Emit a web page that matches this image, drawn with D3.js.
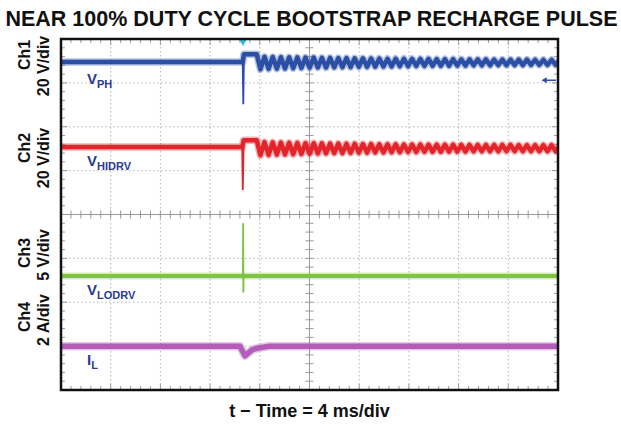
<!DOCTYPE html>
<html>
<head>
<meta charset="utf-8">
<script src="https://cdn.jsdelivr.net/npm/d3@7"></script>
<style>
  body { margin: 0; background: #fff; }
  text { font-family: "Liberation Sans", Arial, Helvetica, sans-serif; font-weight: bold; }
</style>
</head>
<body>
<div class="chart"></div>
<script>
var svgWidth = 621;
var svgHeight = 426;

var margin = { top: 39, right: 63, bottom: 36, left: 61 };
var width = svgWidth - margin.left - margin.right;
var height = svgHeight - margin.top - margin.bottom;

// time base: 4 ms/div, 10 divisions, trigger at centre
var msPerDiv = 4;
var xDivs = 10, yDivs = 8;

// channel settings (units per division, ground position in divisions)
var chNames = ["Ch1", "Ch2", "Ch3", "Ch4"];
var chScales = ["20 V/div", "20 V/div", "5 V/div", "2 A/div"];
var chPerDiv = [20, 20, 5, 2];
var chGround = [3.0, 1.0, -1.4, -4.0];
var chLabel = ["V", "V", "V", "I"];
var chSub = ["PH", "HIDRV", "LODRV", "L"];

// steady / transient knots per channel: [time ms, value]
var ch1Knots = [[-20, 9.5], [-5.38, 9.5], [-5.27, 13.1], [-4.25, 13.1]];
var ch2Knots = [[-20, 10.8], [-5.42, 10.8], [-5.29, 13.9], [-4.25, 13.9]];
var ch3Knots = [[-20, 0], [-5.36, 0], [-5.3, 0], [20, 0]];
var ch4Knots = [[-20, 2.0], [-5.6, 2.0], [-5.2, 1.56], [-4.6, 1.84], [-4.0, 1.93], [-3.2, 2.0], [20, 2.0]];

// narrow switching spikes, drawn between knot 1 and knot 2
var ch1Spike = [[-5.33, -9.7]];
var ch2Spike = [[-5.37, -8.8]];
var ch3Spike = [[-5.34, 6.0], [-5.32, -1.9]];
var ch4Spike = [];

// ringing after the recharge pulse, trough/peak samples every 0.33 ms from -3.95 ms
var ringStart = -3.95, ringStep = 0.33;
var ch1Ring = [6.2, 11.9, 6.4, 11.8, 6.5, 11.7, 6.6, 11.7, 6.7, 11.6,
  6.8, 11.5, 6.9, 11.5, 7.0, 11.4, 7.0, 11.4, 7.1, 11.3,
  7.2, 11.3, 7.2, 11.2, 7.3, 11.2, 7.3, 11.1, 7.4, 11.1,
  7.5, 11.0, 7.5, 11.0, 7.6, 11.0, 7.6, 10.9, 7.7, 10.9,
  7.7, 10.9, 7.8, 10.8, 7.8, 10.8, 7.8, 10.8, 7.9, 10.7,
  7.9, 10.7, 8.0, 10.7, 8.0, 10.7, 8.0, 10.6, 8.1, 10.6,
  8.1, 10.6, 8.1, 10.6, 8.1, 10.6, 8.2, 10.5, 8.2, 10.5,
  8.2, 10.5, 8.2, 10.5];
var ch2Ring = [7.0, 13.0, 7.2, 12.9, 7.3, 12.8, 7.4, 12.7, 7.5, 12.6,
  7.6, 12.5, 7.7, 12.5, 7.8, 12.4, 7.9, 12.3, 8.0, 12.3,
  8.0, 12.2, 8.1, 12.2, 8.2, 12.1, 8.2, 12.1, 8.3, 12.0,
  8.3, 12.0, 8.4, 12.0, 8.4, 11.9, 8.5, 11.9, 8.5, 11.9,
  8.6, 11.8, 8.6, 11.8, 8.6, 11.8, 8.7, 11.8, 8.7, 11.7,
  8.7, 11.7, 8.8, 11.7, 8.8, 11.7, 8.8, 11.7, 8.8, 11.7,
  8.9, 11.7, 8.9, 11.6, 8.9, 11.6, 8.9, 11.6, 8.9, 11.6,
  8.9, 11.6, 8.9, 11.6];

var chColors = ["#2c4fa6", "#e3242b", "#7fc244", "#b35cb8"];
var labelColor = "#2b3a94";

var svg = d3.select(".chart")
  .append("svg")
  .attr("width", svgWidth)
  .attr("height", svgHeight);

svg.append("text")
  .attr("x", svgWidth / 2 + 1)
  .attr("y", 26)
  .attr("text-anchor", "middle")
  .style("font-size", "21.5px")
  .attr("fill", "#111")
  .text("NEAR 100% DUTY CYCLE BOOTSTRAP RECHARGE PULSE");

var chartGroup = svg.append("g")
  .attr("transform", `translate(${margin.left}, ${margin.top})`);

var xScale = d3.scaleLinear()
  .domain([-xDivs / 2 * msPerDiv, xDivs / 2 * msPerDiv])
  .range([0, width]);

var divScale = d3.scaleLinear()
  .domain([-yDivs / 2, yDivs / 2])
  .range([height, 0]);

var xDivScale = d3.scaleLinear().domain([0, xDivs]).range([0, width]);

// dotted graticule
var grid = chartGroup.append("g").attr("stroke", "#b5b5b5").attr("stroke-width", 1)
  .attr("stroke-dasharray", "1.5,2.5");
d3.range(1, xDivs).filter(i => i !== xDivs / 2).forEach(function (i) {
  grid.append("line").attr("x1", xDivScale(i)).attr("x2", xDivScale(i))
    .attr("y1", 0).attr("y2", height);
});
d3.range(-yDivs / 2 + 1, yDivs / 2).filter(i => i !== 0).forEach(function (i) {
  grid.append("line").attr("x1", 0).attr("x2", width)
    .attr("y1", divScale(i)).attr("y2", divScale(i));
});

// centre axes with minor ticks
var axes = chartGroup.append("g").attr("stroke", "#9a9a9a").attr("stroke-width", 1);
axes.append("line").attr("x1", xDivScale(5)).attr("x2", xDivScale(5)).attr("y1", 0).attr("y2", height);
axes.append("line").attr("x1", 0).attr("x2", width).attr("y1", divScale(0)).attr("y2", divScale(0));
d3.range(0, xDivs * 5 + 1).forEach(function (k) {
  var xx = xDivScale(k / 5);
  var len = k % 5 === 0 ? 6 : 4;
  axes.append("line").attr("x1", xx).attr("x2", xx).attr("y1", divScale(0) - 4).attr("y2", divScale(0) + 4);
  axes.append("line").attr("x1", xx).attr("x2", xx).attr("y1", 0).attr("y2", len);
  axes.append("line").attr("x1", xx).attr("x2", xx).attr("y1", height).attr("y2", height - len);
});
d3.range(0, yDivs * 5 + 1).forEach(function (k) {
  var yy = divScale(-yDivs / 2 + k / 5);
  var len = k % 5 === 0 ? 6 : 4;
  axes.append("line").attr("x1", xDivScale(5) - 4).attr("x2", xDivScale(5) + 4).attr("y1", yy).attr("y2", yy);
  axes.append("line").attr("x1", 0).attr("x2", len).attr("y1", yy).attr("y2", yy);
  axes.append("line").attr("x1", width).attr("x2", width - len).attr("y1", yy).attr("y2", yy);
});

// clip traces to the screen
svg.append("clipPath").attr("id", "screen")
  .append("rect").attr("width", width).attr("height", height);

function ringPoints(ring) {
  return ring.map((v, i) => [ringStart + i * ringStep, v]);
}

var chKnots = [ch1Knots, ch2Knots, ch3Knots, ch4Knots];
var chSpikes = [ch1Spike, ch2Spike, ch3Spike, ch4Spike];
var chRings = [ch1Ring, ch2Ring, null, null];
var chWidth = [4.5, 4.5, 4, 5.5];

var traces = chartGroup.append("g").attr("clip-path", "url(#screen)");
chKnots.forEach(function (knots, c) {
  var yScale = d3.scaleLinear()
    .domain([(-yDivs / 2 - chGround[c]) * chPerDiv[c], (yDivs / 2 - chGround[c]) * chPerDiv[c]])
    .range([height, 0]);
  var line = d3.line().x(d => xScale(d[0])).y(d => yScale(d[1]));
  var data = chRings[c] ? knots.concat(ringPoints(chRings[c])) : knots;

  // fuzzy noise band under the trace
  traces.append("path")
    .datum(data)
    .attr("fill", "none")
    .attr("stroke", chColors[c])
    .attr("stroke-opacity", 0.35)
    .attr("stroke-width", chWidth[c] + 3)
    .attr("stroke-linejoin", "round")
    .attr("d", line);
  traces.append("path")
    .datum(data)
    .attr("fill", "none")
    .attr("stroke", chColors[c])
    .attr("stroke-width", chWidth[c])
    .attr("stroke-linejoin", "round")
    .attr("d", line);

  if (chSpikes[c].length) {
    var spike = [knots[1]].concat(chSpikes[c], [knots[2]]);
    traces.append("path")
      .datum(spike)
      .attr("fill", "none")
      .attr("stroke", chColors[c])
      .attr("stroke-width", 1.8)
      .attr("d", line);
  }
});

// trigger marker and ch1 reference arrow
chartGroup.append("path")
  .attr("d", d3.symbol(d3.symbolTriangle, 22)())
  .attr("transform", `translate(${xScale(-5.35)}, 3) rotate(180)`)
  .attr("fill", "#35b8e0");
var refY = divScale(3.06);
chartGroup.append("line")
  .attr("x1", width - 12).attr("x2", width - 2)
  .attr("y1", refY).attr("y2", refY)
  .attr("stroke", chColors[0]).attr("stroke-width", 1.5);
chartGroup.append("path")
  .attr("d", d3.symbol(d3.symbolTriangle, 16)())
  .attr("transform", `translate(${width - 13}, ${refY}) rotate(-90)`)
  .attr("fill", chColors[0]);

// border
chartGroup.append("rect")
  .attr("width", width).attr("height", height)
  .attr("fill", "none").attr("stroke", "#111").attr("stroke-width", 2.5);

// trace labels
var labelY = [84, 166, 295, 365];
chLabel.forEach(function (l, c) {
  var t = chartGroup.append("text")
    .attr("x", 26)
    .attr("y", labelY[c] - margin.top)
    .attr("fill", labelColor)
    .style("font-size", "15px");
  t.append("tspan").text(l);
  t.append("tspan").attr("dy", 4).style("font-size", "11px").text(chSub[c]);
});

// channel scale labels on the left
var chMid = [[55, 66], [148, 158], [253, 255], [317, 320]];
chNames.forEach(function (n, c) {
  svg.append("text")
    .attr("transform", `translate(30, ${chMid[c][0]}) rotate(-90)`)
    .attr("text-anchor", "middle")
    .attr("fill", "#111")
    .style("font-size", "16px")
    .text(n);
  svg.append("text")
    .attr("transform", `translate(49, ${chMid[c][1]}) rotate(-90)`)
    .attr("text-anchor", "middle")
    .attr("fill", "#111")
    .style("font-size", "16px")
    .text(chScales[c]);
});

svg.append("text")
  .attr("x", margin.left + width / 2)
  .attr("y", 417)
  .attr("text-anchor", "middle")
  .attr("fill", "#111")
  .style("font-size", "18px")
  .text("t \u2212 Time = " + msPerDiv + " ms/div");
</script>
</body>
</html>
